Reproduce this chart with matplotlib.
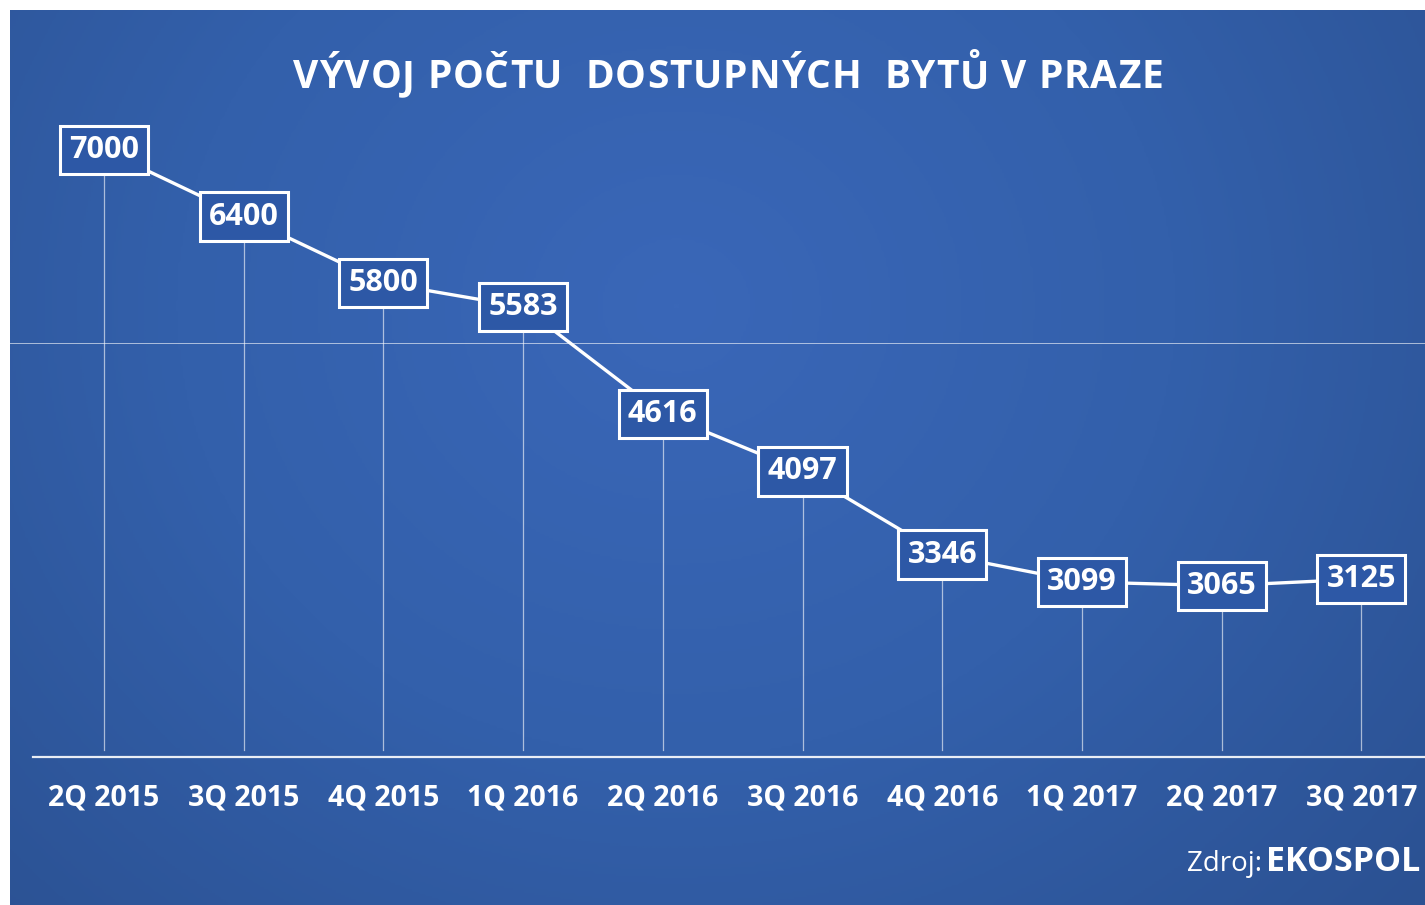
import numpy as np
import matplotlib
matplotlib.use("Agg")
import matplotlib.pyplot as plt
from matplotlib.colors import LinearSegmentedColormap

categories = ["2Q 2015", "3Q 2015", "4Q 2015", "1Q 2016", "2Q 2016",
              "3Q 2016", "4Q 2016", "1Q 2017", "2Q 2017", "3Q 2017"]
values = [7000, 6400, 5800, 5583, 4616, 4097, 3346, 3099, 3065, 3125]
title = "VÝVOJ POČTU  DOSTUPNÝCH  BYTŮ V PRAZE"

W, H = 1425, 905
fig = plt.figure(figsize=(W / 100, H / 100), dpi=100, facecolor="white")

# background radial gradient
bg = fig.add_axes([10 / W, 0, (W - 10) / W, (H - 10) / H])
bg.set_axis_off()
ny, nx = 400, 640
yy, xx = np.mgrid[0:ny, 0:nx]
cx, cy = 0.47 * nx, 0.33 * ny
r = np.sqrt(((xx - cx) / nx) ** 2 + ((yy - cy) / ny * 0.7) ** 2)
r = np.clip(r / 0.75, 0, 1)
cmap = LinearSegmentedColormap.from_list("bg", ["#3a67b8", "#3360ab", "#2b5192"])
bg.imshow(r, cmap=cmap, aspect="auto", interpolation="bilinear")

# data axes mapped over whole figure
ax = fig.add_axes([0, 0, 1, 1])
ax.set_axis_off()
ax.patch.set_alpha(0)
x0p, dxp = 104, 139.7
ax.set_xlim(-x0p / dxp, (W - x0p) / dxp)
ppu = 0.1107
zero_px = 925
ax.set_ylim((zero_px - H) / ppu, zero_px / ppu)

x = np.arange(len(values))
base = (zero_px - 757) / ppu

# drop lines
for xi, v in zip(x, values):
    ax.plot([xi, xi], [base + 60, v], color="white", lw=0.9, alpha=0.6, zorder=2)

# baseline
ax.plot([-(x0p - 33) / dxp, (W - x0p) / dxp], [base, base], color="white", lw=1.6, alpha=0.9, zorder=2)
# thin horizontal line
ax.plot(ax.get_xlim(), [(zero_px - 343) / ppu] * 2, color="white", lw=0.6, alpha=0.7, zorder=1)

# main line
ax.plot(x, values, color="white", lw=2.4, zorder=3, solid_capstyle="round")

for xi, v in zip(x, values):
    ax.text(xi, v, f"{v}", ha="center", va="center", color="white", fontsize=22,
            fontweight="bold", family="Open Sans", zorder=5,
            bbox=dict(boxstyle="square,pad=0.3", facecolor="#2d58a6", edgecolor="white", lw=2.2))

# x labels
for xi, c in zip(x, categories):
    ax.text(xi, (zero_px - 798) / ppu, c, ha="center", va="center", color="white",
            fontsize=20.5, fontweight="bold", family="Open Sans", zorder=5)

# letter-spaced title
fig.canvas.draw()
renderer = fig.canvas.get_renderer()
chars = []
widths = []
for ch in title:
    t = fig.text(0, 1 - 78 / H, ch if ch != " " else "\u00a0", ha="left", va="center",
                 color="white", fontsize=28, fontweight="bold", family="Open Sans")
    chars.append(t)
    widths.append(t.get_window_extent(renderer).width)
spacing = 0.9
total = sum(widths) + spacing * (len(title) - 1)
left = 728 - total / 2
for t, w in zip(chars, widths):
    t.set_x(left / W)
    left += w + spacing

t2 = fig.text(1420 / W, 1 - 862 / H, "EKOSPOL", ha="right", va="center", color="white",
              fontsize=24.5, fontweight="bold", family="Open Sans")
fig.canvas.draw()
bb = t2.get_window_extent()
fig.text((bb.x0 - 4) / W, 1 - 864 / H, "Zdroj:", ha="right", va="center", color="white",
         fontsize=20, family="Open Sans")

fig.savefig("out.png", dpi=100, facecolor="white")
